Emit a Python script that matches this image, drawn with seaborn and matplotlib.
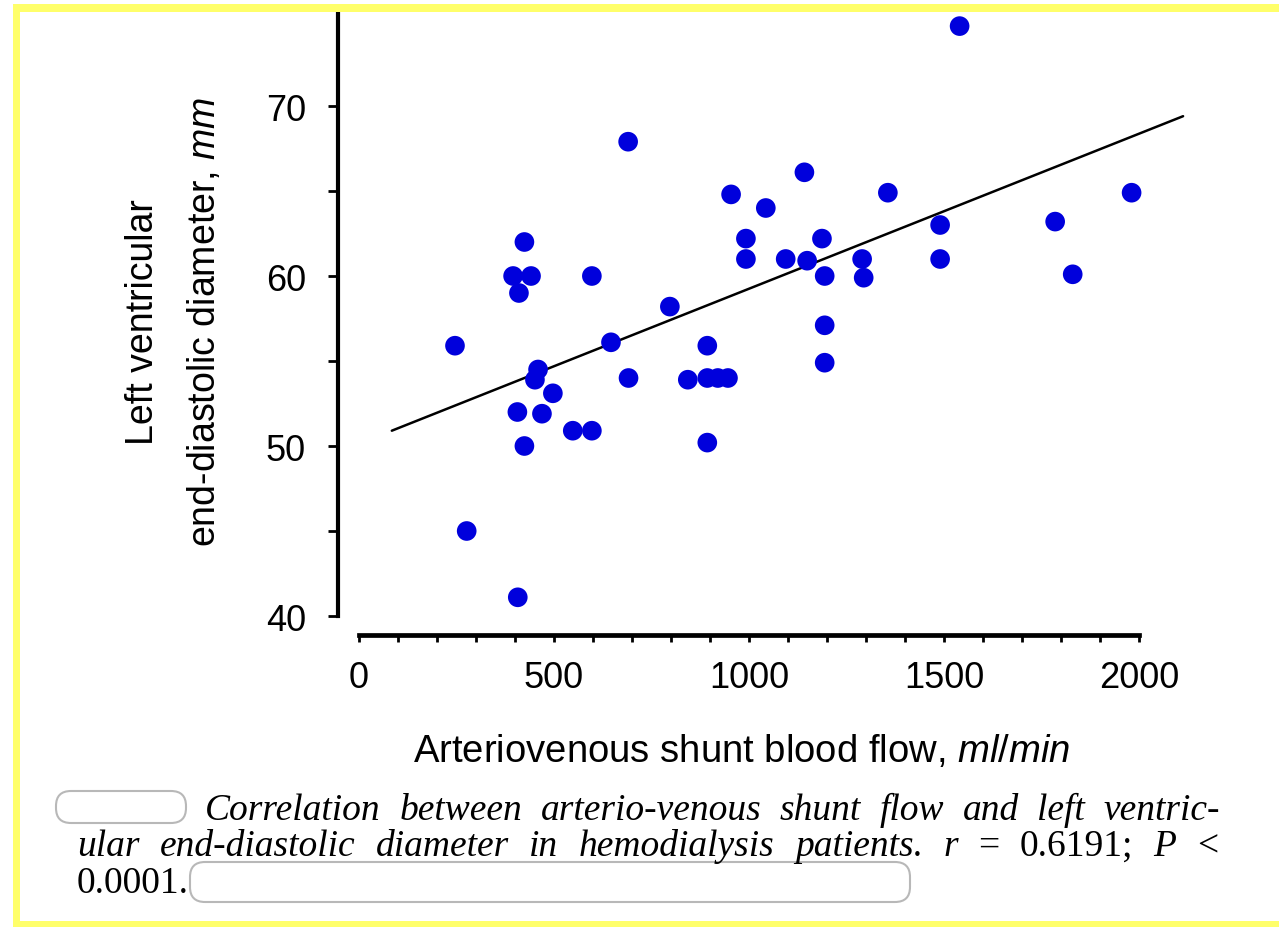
import matplotlib
matplotlib.use("Agg")
import matplotlib.pyplot as plt
import seaborn as sns
import pandas as pd
from matplotlib.patches import Rectangle, FancyBboxPatch
from matplotlib.ticker import FixedLocator
from matplotlib.transforms import IdentityTransform

# ---------------- data ----------------
shunt_flow = [246, 276, 395, 407, 406, 410, 424, 424, 441, 459, 451, 469, 497,
              548, 597, 597, 646, 690, 691, 797, 843, 893, 920, 946, 893, 893,
              954, 992, 992, 1043, 1094, 1142, 1149, 1187, 1194, 1194, 1194,
              1290, 1294, 1356, 1490, 1490, 1540, 1785, 1830, 1981]
lv_diameter = [55.9, 45.0, 60.0, 41.1, 52.0, 59.0, 62.0, 50.0, 60.0, 54.5, 53.9, 51.9, 53.1,
               50.9, 50.9, 60.0, 56.1, 67.9, 54.0, 58.2, 53.9, 54.0, 54.0, 54.0, 55.9, 50.2,
               64.8, 62.2, 61.0, 64.0, 61.0, 66.1, 60.9, 62.2, 60.0, 57.1, 54.9,
               61.0, 59.9, 64.9, 63.0, 61.0, 74.7, 63.2, 60.1, 64.9]
fit_flow = [84, 2113]
fit_diameter = [50.9, 69.4]
x_major = [0, 500, 1000, 1500, 2000]
x_minor = list(range(0, 2001, 100))
y_major = [40, 50, 60, 70]
y_minor = [45, 55, 65]

x_label = "Arteriovenous shunt blood flow, $\\mathit{ml/min}$"
y_label_1 = "Left ventricular"
y_label_2 = "end-diastolic diameter, $\\mathit{mm}$"
caption_lines = [
    [("Correlation", "it"), ("between", "it"), ("arterio-venous", "it"), ("shunt", "it"),
     ("flow", "it"), ("and", "it"), ("left", "it"), ("ventric-", "it")],
    [("ular", "it"), ("end-diastolic", "it"), ("diameter", "it"), ("in", "it"),
     ("hemodialysis", "it"), ("patients.", "it"), ("r", "it"), ("=", "rm"),
     ("0.6191;", "rm"), ("P", "it"), ("<", "rm")],
    [("0.0001.", "rm")],
]

# ---------------- style ----------------
sns.set_theme(style="ticks")
plt.rcParams["font.family"] = ["Liberation Sans", "DejaVu Sans"]
plt.rcParams["mathtext.fontset"] = "custom"
plt.rcParams["mathtext.rm"] = "Liberation Sans"
plt.rcParams["mathtext.it"] = "Liberation Sans:italic"

W, H = 1279, 928
fig = plt.figure(figsize=(W / 100, H / 100), dpi=100)
fig.patch.set_facecolor("white")

# axes placed so that x=0 -> px 359, x=2000 -> px 1139 ; y=40 -> px 617, 10 units = 170 px
x0_px, x1_px = 338.0, 1189.7
y_top_px, y_bot_px = 13.5, 635.7
ax = fig.add_axes([x0_px / W, 1 - y_bot_px / H, (x1_px - x0_px) / W, (y_bot_px - y_top_px) / H])
ax.set_facecolor("none")

df = pd.DataFrame({"flow": shunt_flow, "lvedd": lv_diameter})
sns.scatterplot(data=df, x="flow", y="lvedd", ax=ax, color="#0000DC", s=200,
                edgecolor="none", linewidth=0, zorder=3, legend=False)
sns.lineplot(x=fit_flow, y=fit_diameter, ax=ax, color="black", linewidth=1.8, zorder=2)

ax.set_xlim(-54, 2130)
ax.set_ylim(38.9, 75.5)
ax.set_xlabel("")
ax.set_ylabel("")

for side in ["top", "right"]:
    ax.spines[side].set_visible(False)
ax.spines["left"].set_linewidth(3.0)
ax.spines["bottom"].set_linewidth(3.4)
for side in ["left", "bottom"]:
    ax.spines[side].set_color("black")
ax.spines["left"].set_bounds(40, 75.5)
ax.spines["bottom"].set_bounds(0, 2000)

ax.set_xticks(x_major)
ax.xaxis.set_minor_locator(FixedLocator(x_minor))
ax.set_yticks(y_major)
ax.yaxis.set_minor_locator(FixedLocator(y_minor))
ax.tick_params(which="both", direction="out", color="black", left=True, bottom=True)
ax.tick_params(axis="y", which="both", length=7, width=2, labelsize=26, pad=16, labelcolor="black")
ax.tick_params(axis="x", which="both", length=5, width=2, labelsize=26, pad=13, labelcolor="black")

# axis labels
fig.text(742 / W, 1 - 752 / H, x_label, ha="center", va="center", fontsize=27.5, color="black")
fig.text(143 / W, 1 - 322 / H, y_label_1, rotation=90, ha="center", va="center", fontsize=27, color="black")
fig.text(205 / W, 1 - 322 / H, y_label_2, rotation=90, ha="center", va="center", fontsize=27, color="black")

# ---------------- caption (justified words) ----------------
renderer = fig.canvas.get_renderer()
line_specs = [(205, 1220, 820), (77, 1218, 856), (77, None, 893)]
for words, (xs, xe, yb) in zip(caption_lines, line_specs):
    texts = []
    for w, st in words:
        t = fig.text(0, 1 - yb / H, w, fontsize=27, family=["Liberation Serif", "DejaVu Serif"],
                     style="italic" if st == "it" else "normal", ha="left", va="baseline",
                     color="black", zorder=6)
        texts.append(t)
    widths = [t.get_window_extent(renderer).width for t in texts]
    if xe is None or len(texts) == 1:
        gap = 0
    else:
        gap = (xe - xs - sum(widths)) / (len(texts) - 1)
    x = xs
    for t, wd in zip(texts, widths):
        t.set_x(x / W)
        x += wd + gap

# redaction blobs (light grey outlined rounded shapes)
for (bx, by, bw, bh) in [(56, 792, 130, 32), (190, 863, 720, 40)]:
    p = FancyBboxPatch((bx, H - by - bh), bw, bh, boxstyle="round,pad=0,rounding_size=15",
                       transform=IdentityTransform(), facecolor="none", edgecolor="#B8B8B8",
                       linewidth=1.5, zorder=5)
    fig.add_artist(p)

# yellow frame (top, left, bottom)
yellow = "#FFFF6A"
for (rx, ry, rw, rh) in [(13, 5, W - 13, 8), (13, 5, 7, H - 5), (13, H - 6, W - 13, 6)]:
    r = Rectangle((rx, H - ry - rh), rw, rh, transform=IdentityTransform(),
                  facecolor=yellow, edgecolor="none", zorder=10)
    fig.add_artist(r)

fig.savefig("out.png", dpi=100, facecolor="white")
